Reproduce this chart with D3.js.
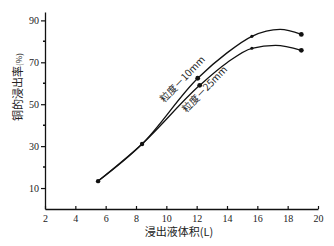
<!DOCTYPE html>
<html>
<head>
<meta charset="utf-8">
<script src="https://cdn.jsdelivr.net/npm/d3@7"></script>
<style>
  body { margin: 0; background: #fff; }
  .tick text { font-family: "Liberation Serif", "DejaVu Serif", serif; font-size: 10px; fill: #222; }
  .cn { font-family: "Noto Sans CJK SC", sans-serif; fill: #222; }
</style>
</head>
<body>
<div id="chart-area"></div>
<script>
// values
let xTicks = [2, 4, 6, 8, 10, 12, 14, 16, 18, 20];
let yTicks = [10, 30, 50, 70, 90];
let yMinor = [20, 40, 60, 80];

// shared first part of both curves
let sharedX = [5.5, 8.4];
let sharedY = [13.3, 31];

// curve for 粒度-10mm
let fineX = [12.07, 14, 15.64, 17.5, 18.9];
let fineY = [62.4, 74.5, 82.4, 85.7, 83.3];
// curve for 粒度-25mm
let coarseX = [12.2, 14, 15.64, 17.2, 18.9];
let coarseY = [59, 69.8, 76.7, 78.1, 75.7];

// measured points (marked with dots)
let fineDotsX = [12.07, 15.64, 18.9];
let fineDotsY = [62.4, 82.4, 83.3];
let coarseDotsX = [12.2, 15.64, 18.9];
let coarseDotsY = [59, 76.7, 75.7];
let sharedDotsX = [5.5, 8.4];
let sharedDotsY = [13.3, 31];

let margin = {left: 45, right: 16, top: 12, bottom: 37};
let width = 334 - margin.left - margin.right;
let height = 246 - margin.top - margin.bottom;

let svg = d3.select("#chart-area")
    .append("svg")
    .attr("width", 334)
    .attr("height", 246);

let g = svg.append("g")
    .attr("transform", "translate(" + margin.left + "," + margin.top + ")");

let x = d3.scaleLinear().domain([2, 20]).range([0, width]);
let y = d3.scaleLinear().domain([0, 94]).range([height, 0]);

// x axis
let xAxis = d3.axisBottom(x).tickValues(xTicks).tickSizeInner(-3).tickSizeOuter(0).tickPadding(6);
let xg = g.append("g")
    .attr("transform", "translate(0," + height + ")")
    .call(xAxis);
xg.select(".domain").attr("stroke", "#111").attr("stroke-width", 1.3);
xg.selectAll(".tick line").attr("stroke", "#111").attr("stroke-width", 1.2);

// y axis
let yAxis = d3.axisLeft(y).tickValues(yTicks).tickSizeInner(4).tickSizeOuter(0).tickPadding(2);
let yg = g.append("g").call(yAxis);
yg.select(".domain").attr("stroke", "#111").attr("stroke-width", 1.3);
yg.selectAll(".tick line").attr("stroke", "#111").attr("stroke-width", 1.2);

g.selectAll(".minor")
    .data(yMinor)
    .enter().append("line")
    .attr("class", "minor")
    .attr("x1", -2).attr("x2", 0)
    .attr("y1", function(d){ return y(d); })
    .attr("y2", function(d){ return y(d); })
    .attr("stroke", "#111")
    .attr("stroke-width", 1.5);

// axis labels
g.append("text")
    .attr("class", "cn")
    .attr("x", 0)
    .attr("y", 0)
    .attr("transform", "translate(" + (22 - margin.left) + "," + (87 - margin.top) + ") rotate(-90)")
    .attr("text-anchor", "middle")
    .attr("font-size", "11px")
    .text("铜的浸出率")
    .append("tspan")
    .attr("font-size", "8px")
    .text("(%)");

g.append("text")
    .attr("class", "cn")
    .attr("x", 179 - margin.left)
    .attr("y", 236 - margin.top)
    .attr("text-anchor", "middle")
    .attr("font-size", "11px")
    .text("浸出液体积(L)");

// curves
let line = d3.line()
    .x(function(d){ return x(d[0]); })
    .y(function(d){ return y(d[1]); })
    .curve(d3.curveMonotoneX);

let shared = sharedX.map(function(d, i){ return [d, sharedY[i]]; });
let fine = shared.concat(fineX.map(function(d, i){ return [d, fineY[i]]; }));
let coarse = shared.concat(coarseX.map(function(d, i){ return [d, coarseY[i]]; }));

g.selectAll(".curve")
    .data([fine, coarse])
    .enter().append("path")
    .attr("class", "curve")
    .attr("d", line)
    .attr("fill", "none")
    .attr("stroke", "#111")
    .attr("stroke-width", 1.3);

// dots
let dots = []
    .concat(sharedDotsX.map(function(d, i){ return [d, sharedDotsY[i], 2.2]; }))
    .concat(fineDotsX.map(function(d, i){ return [d, fineDotsY[i], i == 1 ? 1.6 : 2.4]; }))
    .concat(coarseDotsX.map(function(d, i){ return [d, coarseDotsY[i], i == 1 ? 1.6 : 2.4]; }));

g.selectAll(".dot")
    .data(dots)
    .enter().append("circle")
    .attr("class", "dot")
    .attr("cx", function(d){ return x(d[0]); })
    .attr("cy", function(d){ return y(d[1]); })
    .attr("r", function(d){ return d[2]; })
    .attr("fill", "#111");

// curve labels
g.append("text")
    .attr("class", "cn")
    .attr("font-size", "10px")
    .attr("text-anchor", "middle")
    .attr("transform", "translate(" + (x(11.1) + 2) + "," + (y(56) - 10) + ") rotate(-46)")
    .text("粒度－10mm");

g.append("text")
    .attr("class", "cn")
    .attr("font-size", "10px")
    .attr("text-anchor", "middle")
    .attr("transform", "translate(" + (x(12.3) + 6) + "," + y(56) + ") rotate(-46)")
    .text("粒度－25mm");
</script>
</body>
</html>
